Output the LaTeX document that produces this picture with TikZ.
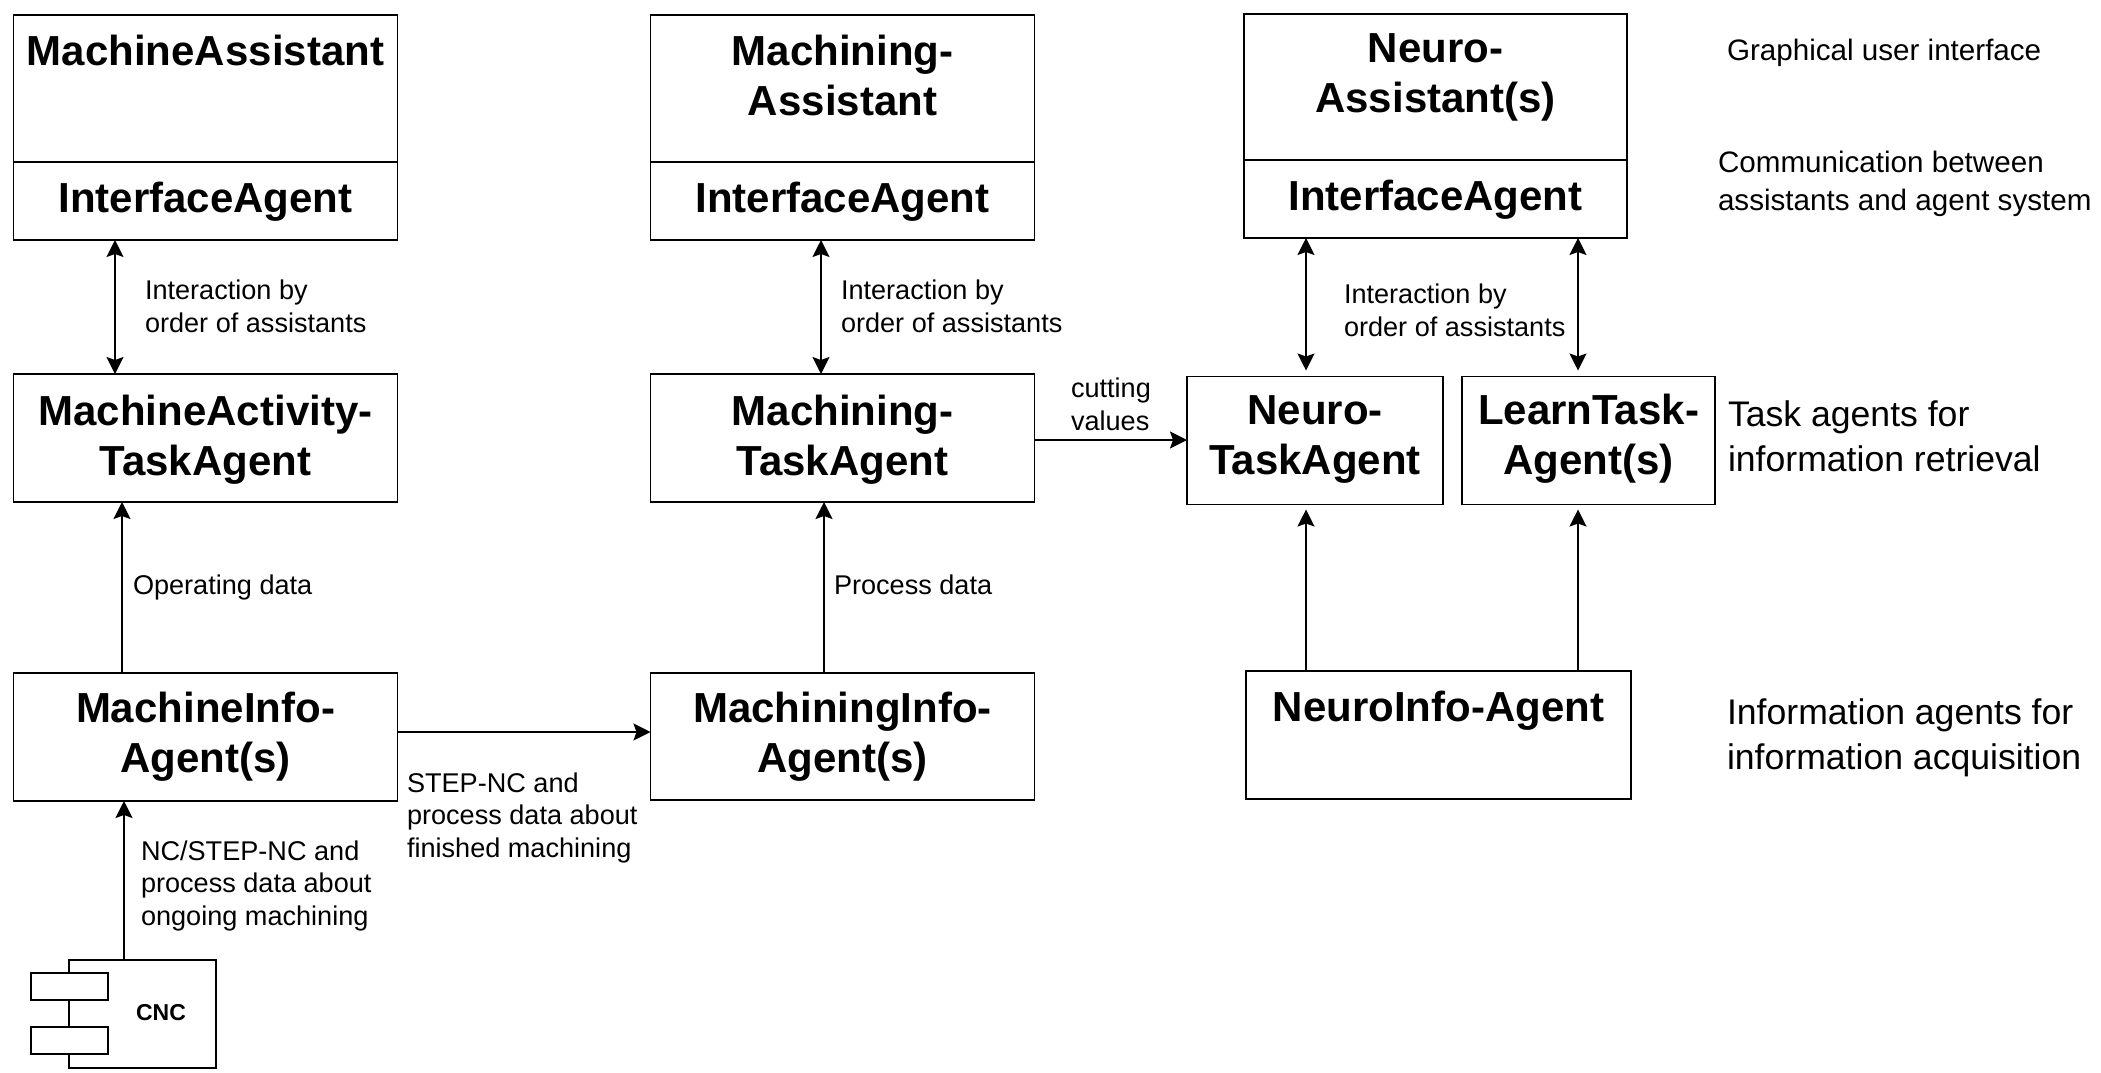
\documentclass[tikz,border=0pt]{standalone}
\usepackage{fontspec}
\setmainfont{Liberation Sans}
\usetikzlibrary{arrows.meta}
\tikzset{
  x=1pt,y=-1pt,
  lw/.style={line width=1.9pt},
  agentbox/.style={draw=black,lw,fill=white,anchor=north,inner sep=0pt,outer sep=0pt,align=center,
     font=\fontsize{42}{50}\selectfont\bfseries},
  w1/.style={minimum width=384pt},
  w3/.style={minimum width=385pt},
  hd/.style 2 args={text height=#1pt,text depth=#2pt},
  lab/.style={inner sep=0pt,outer sep=0pt,anchor=base west,align=left,font=\fontsize{27.1}{32.5}\selectfont},
  side/.style={inner sep=0pt,outer sep=0pt,anchor=base west,align=left,font=\fontsize{29.6}{38}\selectfont},
  sidebig/.style={inner sep=0pt,outer sep=0pt,anchor=base west,align=left,font=\fontsize{35.6}{44.5}\selectfont},
  one/.style={-{Stealth[length=17pt,width=17pt,inset=3pt]},lw},
  two/.style={{Stealth[length=17pt,width=17pt,inset=3pt]}-{Stealth[length=17pt,width=17pt,inset=3pt]},lw},
  part/.style={draw=black,lw,fill=white,inner sep=0pt,outer sep=0pt,minimum width=77pt,minimum height=27pt},
  cncbox/.style={draw=black,lw,fill=white,inner sep=0pt,outer sep=0pt,minimum width=147pt,minimum height=108pt},
}
\begin{document}
\begin{tikzpicture}
\useasboundingbox[fill=white] (0,0) rectangle (2101,1072);
% column 1
\node[agentbox,w1,hd={50}{97}] (ma) at (205.5,15) {MachineAssistant};
\node[agentbox,w1,hd={50}{28}] (if1) at (ma.south) {InterfaceAgent};
\node[agentbox,w1,hd={101}{27}] (mat) at (205.5,374) {MachineActivity-\\TaskAgent};
\node[agentbox,w1,hd={99}{29}] (mi) at (205.5,673) {MachineInfo-\\Agent(s)};
\node[cncbox] (cnc) at (142.5,1014) {};
\node[part] (p1) at (69.5,986.5) {};
\node[part] (p2) at (69.5,1040.5) {};
\node[inner sep=0pt,anchor=base,font=\fontsize{23}{27}\selectfont\bfseries] (cnct) at (161,1020) {CNC};
% column 2
\node[agentbox,w1,hd={100}{47}] (mga) at (842.5,15) {Machining-\\Assistant};
\node[agentbox,w1,hd={50}{28}] (if2) at (mga.south) {InterfaceAgent};
\node[agentbox,w1,hd={101}{27}] (mgt) at (842.5,374) {Machining-\\TaskAgent};
\node[agentbox,w1,hd={99}{28}] (mgi) at (842.5,673) {MachiningInfo-\\Agent(s)};
% column 3
\node[agentbox,minimum width=383pt,hd={98}{48}] (na) at (1435.5,14) {Neuro-\\Assistant(s)};
\node[agentbox,minimum width=383pt,hd={50}{28}] (if3) at (na.south) {InterfaceAgent};
\node[agentbox,minimum width=256pt,hd={98}{30}] (nt) at (1315,376.5) {Neuro-\\TaskAgent};
\node[agentbox,minimum width=253pt,hd={98}{30}] (lt) at (1588.5,376.5) {LearnTask-\\Agent(s)};
\node[agentbox,w3,hd={50}{78}] (ni) at (1438.5,671) {NeuroInfo-Agent};
% connectors
\draw[two] ([xshift=-90.5pt]if1.south) -- ([xshift=-90.5pt]mat.north);
\draw[one] ([xshift=-83.5pt]mi.north) -- ([xshift=-83.5pt]mat.south);
\draw[one] ([xshift=-18.5pt]cnc.north) -- ([xshift=-18.5pt]cnc.north |- mi.south);
\draw[one] ([yshift=5pt]mi.east) -- ([yshift=5pt]mi.east -| mgi.west);
\draw[two] ([xshift=-21.5pt]if2.south) -- ([xshift=-21.5pt]mgt.north);
\draw[one] ([xshift=-18.5pt]mgi.north) -- ([xshift=-18.5pt]mgt.south);
\draw[one] ([yshift=-2pt]mgt.east) -- ([yshift=-2pt]mgt.east -| nt.west);
\draw[two,shorten >=6pt] ([xshift=-129.5pt]if3.south) -- ([xshift=-129.5pt]if3.south |- nt.north);
\draw[two,shorten >=6pt] ([xshift=142.5pt]if3.south) -- ([xshift=142.5pt]if3.south |- lt.north);
\draw[one,shorten >=5pt] ([xshift=-132.5pt]ni.north) -- ([xshift=-132.5pt]ni.north |- nt.south);
\draw[one,shorten >=5pt] ([xshift=139.5pt]ni.north) -- ([xshift=139.5pt]ni.north |- lt.south);
% labels
\node[lab] (l1) at (145,332) {Interaction by\\order of assistants};
\node[lab] (l2) at (841,332) {Interaction by\\order of assistants};
\node[lab] (l3) at (1344,336) {Interaction by\\order of assistants};
\node[lab] (l4) at (1071,430) {cutting\\values};
\node[lab] (l5) at (133,594) {Operating data};
\node[lab] (l6) at (834,594) {Process data};
\node[lab] (l7) at (407,857) {STEP-NC and\\process data about\\finished machining};
\node[lab] (l8) at (141,925) {NC/STEP-NC and\\process data about\\ongoing machining};
\node[side] (s1) at (1727,60) {Graphical user interface};
\node[side] (s2) at (1718,210) {Communication between\\assistants and agent system};
\node[sidebig] (s3) at (1728,471) {Task agents for\\information retrieval};
\node[sidebig] (s4) at (1727,769) {Information agents for\\information acquisition};
\end{tikzpicture}
\end{document}
